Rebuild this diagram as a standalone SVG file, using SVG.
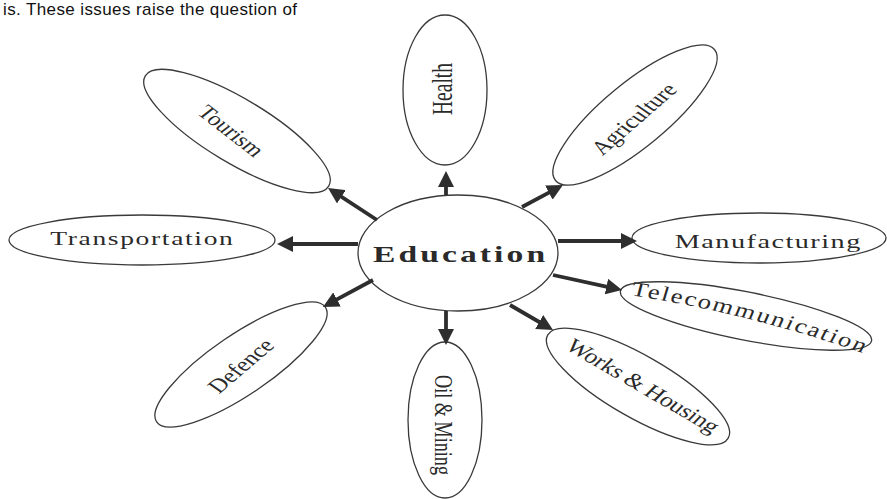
<svg xmlns="http://www.w3.org/2000/svg" width="887" height="499" viewBox="0 0 887 499">
<style>
.node{fill:#fff;stroke:#3a3a3a;stroke-width:1.3}
.lbl{font-family:"Liberation Serif","Times New Roman",serif;fill:#2a2a2a;text-anchor:middle}
.conn{stroke:#2e2e2e;stroke-width:3.8;fill:none;marker-end:url(#ah)}
.top{font-family:"Liberation Sans",Arial,sans-serif;font-size:17px;fill:#111}
</style>
<defs>
<marker id="ah" markerUnits="userSpaceOnUse" markerWidth="17" markerHeight="16" refX="8" refY="8" orient="auto">
<path d="M0,0 L16,8 L0,16 z" fill="#2e2e2e"/>
</marker>
<path id="telPath" d="M 483 295 Q 573 312 666 354"/>
</defs>
<rect width="887" height="499" fill="#fff"/>
<text class="top" x="3" y="15" textLength="294" lengthAdjust="spacing">is. These issues raise the question of</text>

<g id="education">
<ellipse class="node" cx="458" cy="253" rx="100" ry="58" stroke-width="1.5"/>
<g transform="translate(459,262) scale(1.4,1)"><text class="lbl" x="0" y="0" font-size="24" font-weight="bold" textLength="123" lengthAdjust="spacing">Education</text></g>
</g>

<g id="tourism">
<ellipse class="node" transform="translate(237,131) rotate(31)" cx="0" cy="0" rx="107" ry="32"/>
<g transform="translate(231,131) scale(1.3,1) rotate(45)"><text class="lbl" x="0" y="6.5" font-size="20" textLength="63" lengthAdjust="spacingAndGlyphs">Tourism</text></g>
</g>

<g id="health">
<ellipse class="node" cx="445" cy="90" rx="42" ry="75"/>
<g transform="translate(442,89) scale(1.45,1) rotate(-90)"><text class="lbl" x="0" y="6.6" font-size="20" textLength="52" lengthAdjust="spacingAndGlyphs">Health</text></g>
</g>

<g id="agriculture">
<ellipse class="node" transform="translate(635,115) rotate(-39.5)" cx="0" cy="0" rx="103" ry="32"/>
<g transform="translate(634,119) scale(1.3,1) rotate(-48.5)"><text class="lbl" x="0" y="6.5" font-size="20" textLength="88" lengthAdjust="spacingAndGlyphs">Agriculture</text></g>
</g>

<g id="transportation">
<ellipse class="node" cx="142" cy="240" rx="133" ry="25"/>
<g transform="translate(141.5,245) scale(1.45,1)"><text class="lbl" x="0" y="0" font-size="19" textLength="126" lengthAdjust="spacing">Transportation</text></g>
</g>

<g id="manufacturing">
<ellipse class="node" cx="759" cy="238" rx="127" ry="25"/>
<g transform="translate(767.5,248) scale(1.45,1)"><text class="lbl" x="0" y="0" font-size="19.5" textLength="128" lengthAdjust="spacing">Manufacturing</text></g>
</g>

<g id="telecommunication">
<ellipse class="node" transform="translate(746,316) rotate(11.2)" cx="0" cy="0" rx="128" ry="24"/>
<g transform="scale(1.3,1)"><text font-family="Liberation Serif, Times New Roman, serif" font-size="20.5" fill="#2a2a2a"><textPath href="#telPath" startOffset="2" textLength="188" lengthAdjust="spacing">Telecommunication</textPath></text></g>
</g>

<g id="works-housing">
<ellipse class="node" transform="translate(638,386.5) rotate(29.8)" cx="0" cy="0" rx="104" ry="31"/>
<g transform="translate(643,386) scale(1.3,1) rotate(37)"><text class="lbl" x="0" y="6.5" font-size="20" textLength="142" lengthAdjust="spacing">Works &amp; Housing</text></g>
</g>

<g id="oil-mining">
<ellipse class="node" cx="445" cy="420" rx="37" ry="78"/>
<g transform="translate(443,425) scale(1.3,1) rotate(90)"><text class="lbl" x="0" y="6.5" font-size="20" textLength="100" lengthAdjust="spacingAndGlyphs">Oil &amp; Mining</text></g>
</g>

<g id="defence">
<ellipse class="node" transform="translate(241,364.5) rotate(-34.2)" cx="0" cy="0" rx="102" ry="30"/>
<g transform="translate(241,366) scale(1.3,1) rotate(-48)"><text class="lbl" x="0" y="6.5" font-size="20" textLength="65" lengthAdjust="spacingAndGlyphs">Defence</text></g>
</g>

<g id="connectors">
<line class="conn" x1="446" y1="195" x2="446" y2="179"/>
<line class="conn" x1="522" y1="207" x2="555.9" y2="188.8"/>
<line class="conn" x1="558" y1="241" x2="629" y2="241"/>
<line class="conn" x1="553" y1="275" x2="614.2" y2="288.3"/>
<line class="conn" x1="510" y1="305" x2="546.1" y2="326"/>
<line class="conn" x1="446" y1="311" x2="446" y2="337"/>
<line class="conn" x1="373" y1="280" x2="330" y2="303.2"/>
<line class="conn" x1="358" y1="244" x2="285" y2="244"/>
<line class="conn" x1="377" y1="220" x2="334.7" y2="192.4"/>
</g>
</svg>
